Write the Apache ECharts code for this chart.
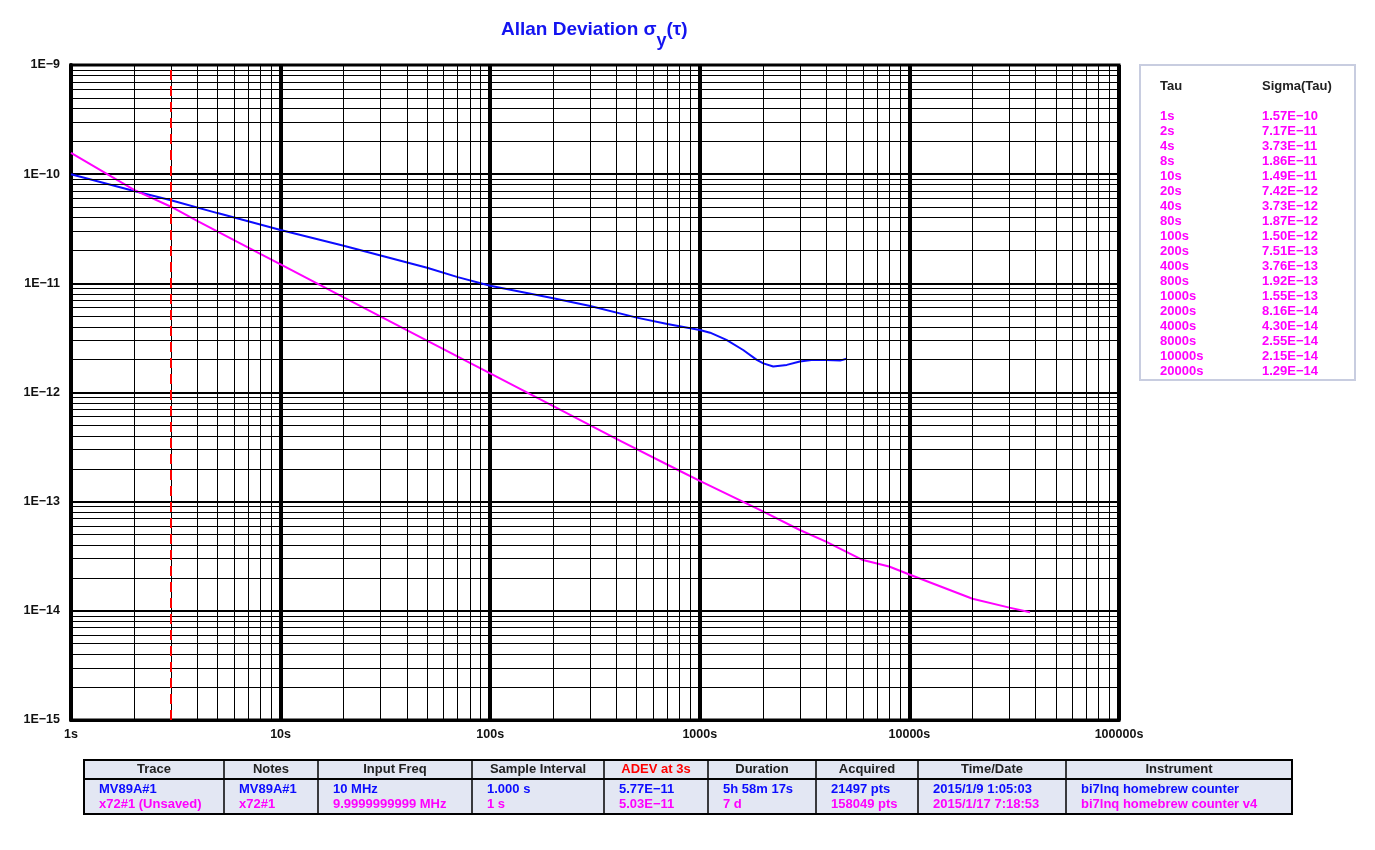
<!DOCTYPE html>
<html><head><meta charset="utf-8">
<script src="https://cdn.jsdelivr.net/npm/echarts@6/dist/echarts.min.js"></script>
<style>html,body{margin:0;padding:0;background:#fff}#c{width:1375px;height:850px}</style>
</head><body><div id="c"></div>
<script>
// ---- data ----
const blueTau  = [1, 2, 3, 5, 7, 10, 20, 30, 50, 70, 100, 200, 300, 500, 700, 1000, 1120, 1340, 1610, 1870, 2010, 2240, 2600, 3000, 3480, 4000, 4670, 5010];
const blueAdev = [1.00e-10, 7.0e-11, 5.77e-11, 4.4e-11, 3.7e-11, 3.08e-11, 2.21e-11, 1.8e-11, 1.39e-11, 1.14e-11, 9.5e-12, 7.3e-12, 6.2e-12, 4.85e-12, 4.25e-12, 3.74e-12, 3.53e-12, 3.03e-12, 2.45e-12, 1.99e-12, 1.85e-12, 1.73e-12, 1.79e-12, 1.92e-12, 1.99e-12, 1.98e-12, 1.96e-12, 2.04e-12];
const magTau   = [1, 2, 3, 4, 8, 10, 20, 40, 80, 100, 200, 400, 800, 1000, 2000, 3000, 4000, 6000, 8000, 10000, 20000, 30000, 37600];
const magAdev  = [1.57e-10, 7.17e-11, 5.03e-11, 3.73e-11, 1.86e-11, 1.49e-11, 7.42e-12, 3.73e-12, 1.87e-12, 1.50e-12, 7.51e-13, 3.76e-13, 1.92e-13, 1.55e-13, 8.16e-14, 5.5e-14, 4.30e-14, 2.92e-14, 2.55e-14, 2.15e-14, 1.29e-14, 1.07e-14, 9.7e-15];
const markerTau = 3;

const legendTau   = ['1s','2s','4s','8s','10s','20s','40s','80s','100s','200s','400s','800s','1000s','2000s','4000s','8000s','10000s','20000s'];
const legendSigma = ['1.57E\u221210','7.17E\u221211','3.73E\u221211','1.86E\u221211','1.49E\u221211','7.42E\u221212','3.73E\u221212','1.87E\u221212','1.50E\u221212','7.51E\u221213','3.76E\u221213','1.92E\u221213','1.55E\u221213','8.16E\u221214','4.30E\u221214','2.55E\u221214','2.15E\u221214','1.29E\u221214'];

const tableHeaders = ['Trace','Notes','Input Freq','Sample Interval','ADEV at 3s','Duration','Acquired','Time/Date','Instrument'];
const tableRowBlue = ['MV89A#1','MV89A#1','10 MHz','1.000 s','5.77E\u221211','5h 58m 17s','21497 pts','2015/1/9 1:05:03','bi7lnq homebrew counter'];
const tableRowMag  = ['x72#1 (Unsaved)','x72#1','9.9999999999 MHz','1 s','5.03E\u221211','7 d','158049 pts','2015/1/17 7:18:53','bi7lnq homebrew counter v4'];

// ---- layout / style ----
const BLUE = '#0c0cff', MAG = '#ff00ff';
const FONT = '"Liberation Sans", Arial, sans-serif';
const colX = [84, 224, 318, 472, 604, 708, 816, 918, 1066, 1292];
const X_MIN = 1, X_MAX = 100000, Y_MIN = 1e-15, Y_MAX = 1e-9;

const xMinor = [], yMinor = [];
for (let k = 0; k < 5; k++) for (let m = 2; m <= 9; m++) xMinor.push(m * Math.pow(10, k));
for (let k = -15; k < -9; k++) for (let m = 2; m <= 9; m++) yMinor.push(m * Math.pow(10, k));

function txt(x, y, s, color, align) {
  return { type: 'text', silent: true, z: 10,
    style: { x: x, y: y, text: s, fill: color, fontSize: 13, fontWeight: 'bold', fontFamily: FONT,
      align: align || 'left', verticalAlign: 'middle', textAlign: align || 'left', textVerticalAlign: 'middle' } };
}

const graphics = [];
// legend box
graphics.push({ type: 'rect', silent: true, z: 5, shape: { x: 1140, y: 65, width: 215, height: 315 },
  style: { fill: '#fff', stroke: '#c8cde0', lineWidth: 2 } });
graphics.push(txt(1160, 86, 'Tau', '#222'));
graphics.push(txt(1262, 86, 'Sigma(Tau)', '#222'));
legendTau.forEach((t, i) => {
  graphics.push(txt(1160, 116 + 15 * i, t, MAG));
  graphics.push(txt(1262, 116 + 15 * i, legendSigma[i], MAG));
});
// bottom table
const tTop = 760, tHead = 779, tBot = 814;
graphics.push({ type: 'rect', silent: true, z: 5, shape: { x: colX[0], y: tTop, width: colX[9] - colX[0], height: tBot - tTop },
  style: { fill: '#e3e7f3', stroke: '#000', lineWidth: 2 } });
graphics.push({ type: 'line', silent: true, z: 6, shape: { x1: colX[0], y1: tHead, x2: colX[9], y2: tHead },
  style: { stroke: '#000', lineWidth: 2 } });
for (let i = 1; i < colX.length - 1; i++) {
  graphics.push({ type: 'line', silent: true, z: 6, shape: { x1: colX[i], y1: tTop, x2: colX[i], y2: tBot },
    style: { stroke: '#000', lineWidth: 1.5 } });
}
tableHeaders.forEach((h, i) => {
  const cx = (colX[i] + colX[i + 1]) / 2;
  graphics.push(txt(cx, 769.5, h, i === 4 ? '#ff0000' : '#222', 'center'));
  graphics.push(txt(colX[i] + 15, 789, tableRowBlue[i], BLUE));
  graphics.push(txt(colX[i] + 15, 804, tableRowMag[i], MAG));
});

const gridLineData = xMinor.map(v => [{ coord: [v, Y_MIN] }, { coord: [v, Y_MAX] }])
  .concat(yMinor.map(v => [{ coord: [X_MIN, v] }, { coord: [X_MAX, v] }]));

const chart = echarts.init(document.getElementById('c'), null, { renderer: 'canvas' });
chart.setOption({
  animation: false,
  backgroundColor: '#fff',
  title: {
    text: '{a|Allan Deviation \u03c3}{s|y}{a|(\u03c4)}',
    left: 501, top: 20, padding: 0,
    textStyle: { rich: {
      a: { fontSize: 19, fontWeight: 'bold', color: '#1414f0', fontFamily: FONT, lineHeight: 20, verticalAlign: 'top' },
      s: { fontSize: 18, fontWeight: 'bold', color: '#1414f0', fontFamily: FONT, lineHeight: 30, verticalAlign: 'bottom' }
    } }
  },
  grid: { left: 71, right: 256, top: 65, bottom: 130, show: true, borderColor: '#000', borderWidth: 3, backgroundColor: '#fff' },
  xAxis: {
    type: 'log', logBase: 10, min: X_MIN, max: X_MAX, splitNumber: 5,
    axisLine: { show: true, lineStyle: { color: '#000', width: 3 } },
    axisTick: { show: false },
    axisLabel: { show: true, showMinLabel: true, showMaxLabel: true, margin: 8, color: '#111', fontSize: 12.5, fontWeight: 'bold', fontFamily: FONT,
      formatter: v => Math.round(v) + 's' },
    splitLine: { show: true, lineStyle: { color: '#000', width: 4 } }
  },
  yAxis: {
    type: 'log', logBase: 10, min: Y_MIN, max: Y_MAX, splitNumber: 6,
    axisLine: { show: true, lineStyle: { color: '#000', width: 4 } },
    axisTick: { show: false },
    axisLabel: { show: true, showMinLabel: true, showMaxLabel: true, margin: 11, color: '#111', fontSize: 12.5, fontWeight: 'bold', fontFamily: FONT,
      formatter: v => '1E\u2212' + Math.round(-Math.log10(v)) },
    splitLine: { show: true, lineStyle: { color: '#000', width: 2 } }
  },
  series: [
    { type: 'line', data: [], z: 1, silent: true,
      markLine: { silent: true, symbol: ['none', 'none'], animation: false, label: { show: false }, precision: 20,
        lineStyle: { color: '#000', width: 1, type: 'solid' },
        emphasis: { disabled: true },
        data: gridLineData } },
    { type: 'line', data: [], z: 2, silent: true,
      markLine: { silent: true, symbol: ['none', 'none'], animation: false, label: { show: false },
        emphasis: { disabled: true },
        lineStyle: { color: '#ff0000', width: 2, type: [10, 6] },
        data: [{ xAxis: markerTau }] } },
    { name: 'MV89A#1', type: 'line', z: 3, showSymbol: false, silent: true,
      data: blueTau.map((t, i) => [t, blueAdev[i]]),
      lineStyle: { color: BLUE, width: 2 }, itemStyle: { color: BLUE } },
    { name: 'x72#1', type: 'line', z: 4, showSymbol: false, silent: true,
      data: magTau.map((t, i) => [t, magAdev[i]]),
      lineStyle: { color: MAG, width: 2 }, itemStyle: { color: MAG } }
  ],
  graphic: { elements: graphics }
});
</script>
</body></html>
